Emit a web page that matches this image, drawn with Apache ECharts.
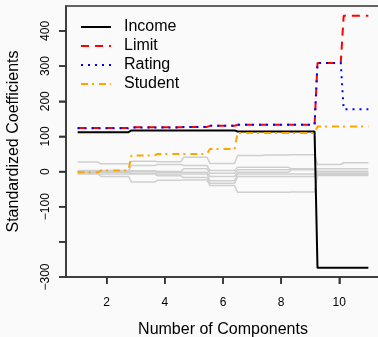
<!DOCTYPE html>
<html>
<head>
<meta charset="utf-8">
<script src="https://cdn.jsdelivr.net/npm/echarts@6/dist/echarts.min.js"></script>
<style>
  html, body { margin: 0; padding: 0; background: #fafafa; }
  #chart { width: 378px; height: 337px; }
</style>
</head>
<body>
<div id="chart"></div>
<script>
// component boundaries where the coefficient paths step
const breaks = [1, 1.75, 2.8, 3.7, 4.6, 5.5, 6.45, 7.4, 8.3, 9.2, 10.1, 11];

// levels per segment (between successive breaks)
const income  = [112, 112, 117, 117, 117, 117, 114, 114, 114, -274, -274];
const limit   = [124, 124, 126, 126, 127, 130, 133, 133, 133, 309, 443];
const rating  = [123, 123, 125, 125, 127, 130, 133, 133, 133, 309, 177];
const student = [-2, 3, 46, 50, 50, 64, 110, 110, 110, 128, 128];

const others = [
  [27, 22, 29, 28, 41, 23, 46, 47, 48, 20, 25],
  [3, 3, 17, 20, 17, 3, 12, 12, 8, 8, 8],
  [1, 1, 2, 0, 8, -5, 5, 5, 7, 1, 1],
  [-1, -1, 0, -2, -2, -14, -2, -2, 5, -4, -4],
  [-3, -3, -5, -7, -7, -26, -7, -7, -7, -6, -6],
  [-5, -7, -7, -12, -17, -33, -14, -14, -14, -9, -9],
  [-7, -14, -30, -25, -24, -40, -59, -59, -58, -11, -11]
];

const xTicks = [2, 4, 6, 8, 10];
const yTicks = [-300, -200, -100, 0, 100, 200, 300, 400];

const font = 'Liberation Sans';
const xMin = 0.6, xMax = 11.4, yMin = -300, yMax = 471;

function steps(levels) {
  const pts = [];
  levels.forEach((v, i) => {
    const a = i === 0 ? breaks[0] : breaks[i] + 0.05;
    const b = i === levels.length - 1 ? breaks[i + 1] : breaks[i + 1] - 0.05;
    pts.push([a, v], [b, v]);
  });
  return pts;
}

const series = [];
others.forEach((lv, i) => {
  series.push({
    name: 'other' + i, type: 'line', data: steps(lv), symbol: 'none',
    lineStyle: { color: '#cfcfcf', width: 1.5 }, silent: true
  });
});

const main = [
  { name: 'Income', data: income, color: '#000000', type: 'solid' },
  { name: 'Limit', data: limit, color: '#ff0000', type: [8, 6] },
  { name: 'Rating', data: rating, color: '#0000ff', type: [2, 5] },
  { name: 'Student', data: student, color: '#ffa500', type: [7, 4, 2, 5] }
];
main.forEach(m => {
  series.push({
    name: m.name, type: 'line', data: steps(m.data), symbol: 'none',
    color: m.color,
    lineStyle: { color: m.color, width: 2, type: m.type }, silent: true
  });
});

const axisLine = { show: true, onZero: false, lineStyle: { color: '#333', width: 1.5 } };

const chart = echarts.init(document.getElementById('chart'));
chart.setOption({
  animation: false,
  backgroundColor: '#fafafa',
  grid: {
    left: 66, top: 6, width: 314, height: 271,
    outerBoundsMode: 'none', containLabel: false,
    show: true, borderColor: '#333', borderWidth: 1.5
  },
  legend: {
    data: ['Income', 'Limit', 'Rating', 'Student'],
    orient: 'vertical', left: 80, top: 19, padding: 0,
    itemWidth: 30, itemHeight: 14, itemGap: 3,
    itemStyle: { opacity: 0, color: 'rgba(0,0,0,0)', borderWidth: 0 },
    textStyle: { fontSize: 16, fontFamily: font, color: '#000', padding: [0, 0, 0, 8] },
    selectedMode: false
  },
  xAxis: {
    type: 'value', min: xMin, max: xMax,
    name: 'Number of Components', nameLocation: 'middle', nameGap: 45,
    nameTextStyle: { fontSize: 16, fontFamily: font, color: '#000' },
    axisLine: axisLine,
    splitLine: { show: false },
    axisTick: { show: true, customValues: xTicks, length: 7, lineStyle: { color: '#333', width: 1.5 } },
    axisLabel: { customValues: xTicks, margin: 20, fontSize: 12, fontFamily: font, color: '#000' }
  },
  yAxis: {
    type: 'value', min: yMin, max: yMax,
    name: 'Standardized Coefficients', nameLocation: 'middle', nameGap: 44,
    nameTextStyle: { fontSize: 16, fontFamily: font, color: '#000' },
    axisLine: axisLine,
    splitLine: { show: false },
    axisTick: { show: true, customValues: yTicks, length: 7, lineStyle: { color: '#333', width: 1.5 } },
    axisLabel: {
      customValues: yTicks, margin: 14, rotate: 90, fontSize: 12, fontFamily: font, color: '#000',
      align: 'center', verticalAlign: 'bottom',
      formatter: v => (v === -200 ? '' : String(v).replace('-', '\u2212'))
    }
  },
  series: series
});

// tick marks, placed through the axes' own scales
const tickLen = 7;
const tickStyle = { stroke: '#333333', lineWidth: 1.5 };
const x0 = chart.convertToPixel({ xAxisIndex: 0 }, xMin);
const y0 = chart.convertToPixel({ yAxisIndex: 0 }, yMin);
const tickMarks = [];
xTicks.forEach(v => {
  const px = chart.convertToPixel({ xAxisIndex: 0 }, v);
  tickMarks.push({ type: 'line', z: 100, shape: { x1: px, y1: y0, x2: px, y2: y0 + tickLen }, style: tickStyle, silent: true });
});
yTicks.forEach(v => {
  const py = chart.convertToPixel({ yAxisIndex: 0 }, v);
  tickMarks.push({ type: 'line', z: 100, shape: { x1: x0 - tickLen, y1: py, x2: x0, y2: py }, style: tickStyle, silent: true });
});
chart.setOption({ graphic: { elements: tickMarks } });
</script>
</body>
</html>
